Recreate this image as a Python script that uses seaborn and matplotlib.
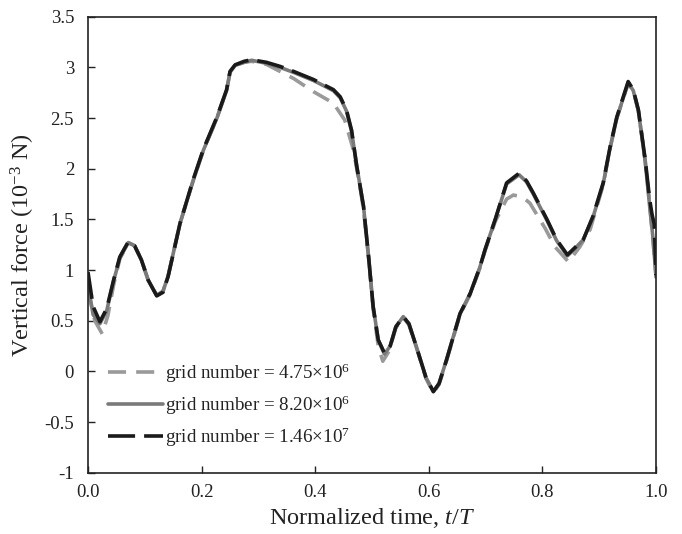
import matplotlib
matplotlib.use("Agg")
import matplotlib.pyplot as plt
import seaborn as sns
import numpy as np

# ---- data ----
t_fine = [0.000, 0.009, 0.021, 0.033, 0.045, 0.056, 0.071, 0.082, 0.094, 0.106,
          0.121, 0.132, 0.141, 0.162, 0.185, 0.203, 0.227, 0.244, 0.250, 0.259,
          0.275, 0.288, 0.314, 0.338, 0.362, 0.397, 0.432, 0.444, 0.455, 0.464,
          0.473, 0.485, 0.494, 0.502, 0.511, 0.522, 0.532, 0.542, 0.555, 0.565,
          0.578, 0.595, 0.608, 0.618, 0.631, 0.655, 0.673, 0.690, 0.699, 0.717,
          0.737, 0.759, 0.772, 0.784, 0.808, 0.825, 0.844, 0.857, 0.872, 0.889,
          0.907, 0.919, 0.931, 0.951, 0.960, 0.969, 0.981, 0.989, 0.993, 0.997, 1.000]
f_fine = [0.98, 0.64, 0.49, 0.62, 0.90, 1.13, 1.28, 1.24, 1.10, 0.90,
          0.745, 0.78, 0.935, 1.46, 1.89, 2.19, 2.51, 2.78, 2.96, 3.025,
          3.06, 3.075, 3.05, 3.01, 2.96, 2.88, 2.78, 2.71, 2.58, 2.38,
          2.03, 1.63, 1.13, 0.64, 0.31, 0.18, 0.25, 0.44, 0.54, 0.47,
          0.245, -0.06, -0.20, -0.12, 0.11, 0.57, 0.77, 1.03, 1.20, 1.50,
          1.86, 1.955, 1.88, 1.76, 1.50, 1.30, 1.15, 1.22, 1.30, 1.53,
          1.86, 2.21, 2.51, 2.86, 2.78, 2.58, 2.09, 1.69, 1.55, 1.45, 0.95]

t_mid = [0.000, 0.009, 0.021, 0.033, 0.045, 0.056, 0.071, 0.082, 0.094, 0.106,
         0.121, 0.132, 0.141, 0.162, 0.185, 0.203, 0.227, 0.244, 0.250, 0.259,
         0.275, 0.288, 0.314, 0.338, 0.362, 0.397, 0.432, 0.444, 0.455, 0.464,
         0.473, 0.485, 0.494, 0.502, 0.511, 0.522, 0.532, 0.542, 0.555, 0.565,
         0.578, 0.595, 0.608, 0.618, 0.631, 0.655, 0.673, 0.690, 0.699, 0.717,
         0.737, 0.759, 0.772, 0.784, 0.808, 0.825, 0.844, 0.857, 0.872, 0.889,
         0.907, 0.919, 0.931, 0.951, 0.960, 0.969, 0.981, 0.989, 0.995, 1.000]
f_mid = [0.85, 0.56, 0.47, 0.60, 0.89, 1.12, 1.27, 1.24, 1.10, 0.90,
         0.75, 0.79, 0.94, 1.46, 1.88, 2.18, 2.50, 2.77, 2.95, 3.02,
         3.05, 3.07, 3.04, 3.00, 2.95, 2.87, 2.77, 2.70, 2.57, 2.37,
         2.03, 1.63, 1.13, 0.64, 0.31, 0.17, 0.25, 0.44, 0.54, 0.47,
         0.245, -0.06, -0.20, -0.12, 0.11, 0.57, 0.77, 1.03, 1.20, 1.50,
         1.85, 1.94, 1.87, 1.75, 1.49, 1.29, 1.14, 1.21, 1.30, 1.52,
         1.85, 2.20, 2.50, 2.85, 2.77, 2.57, 2.07, 1.62, 1.30, 0.93]

t_coarse = [0.000, 0.012, 0.025, 0.035, 0.045, 0.056, 0.071, 0.082, 0.094, 0.106,
            0.121, 0.132, 0.141, 0.162, 0.185, 0.203, 0.227, 0.244, 0.250, 0.259,
            0.275, 0.288, 0.314, 0.338, 0.362, 0.397, 0.432, 0.452, 0.467, 0.478,
            0.485, 0.494, 0.502, 0.511, 0.519, 0.530, 0.542, 0.555, 0.565, 0.578,
            0.595, 0.608, 0.618, 0.631, 0.655, 0.673, 0.690, 0.699, 0.717, 0.737,
            0.749, 0.765, 0.778, 0.805, 0.822, 0.846, 0.866, 0.884, 0.907, 0.919,
            0.931, 0.951, 0.960, 0.969, 0.981, 0.989, 1.000]
f_coarse = [0.80, 0.50, 0.37, 0.55, 0.85, 1.11, 1.27, 1.24, 1.10, 0.90,
            0.75, 0.79, 0.94, 1.46, 1.88, 2.18, 2.50, 2.78, 2.95, 3.02,
            3.05, 3.06, 3.03, 2.96, 2.89, 2.76, 2.647, 2.48, 2.19, 1.85,
            1.60, 1.12, 0.62, 0.25, 0.10, 0.20, 0.43, 0.53, 0.46, 0.24,
            -0.07, -0.21, -0.13, 0.10, 0.56, 0.76, 1.02, 1.19, 1.48, 1.70,
            1.74, 1.72, 1.66, 1.41, 1.23, 1.08, 1.23, 1.40, 1.84, 2.20,
            2.50, 2.84, 2.77, 2.57, 2.08, 1.65, 0.95]

labels = [r"grid number = 4.75$\times$10$^{6}$",
          r"grid number = 8.20$\times$10$^{6}$",
          r"grid number = 1.46$\times$10$^{7}$"]
xticks = [0.0, 0.2, 0.4, 0.6, 0.8, 1.0]
xticklabels = ["0.0", "0.2", "0.4", "0.6", "0.8", "1.0"]
yticks = [-1, -0.5, 0, 0.5, 1, 1.5, 2, 2.5, 3, 3.5]
yticklabels = ["-1", "-0.5", "0", "0.5", "1", "1.5", "2", "2.5", "3", "3.5"]

# ---- style ----
sns.set_theme(style="white")
plt.rcParams["font.family"] = ["Liberation Serif", "DejaVu Serif"]
plt.rcParams["mathtext.fontset"] = "custom"
plt.rcParams["mathtext.rm"] = "Liberation Serif"
plt.rcParams["mathtext.it"] = "Liberation Serif:italic"

fig = plt.figure(figsize=(6.82, 5.34), dpi=100)
ax = fig.add_axes([88/682, 1 - 472.7/534, (656 - 88)/682, (472.7 - 16.7)/534])

lw = 2.6
sns.lineplot(x=t_coarse, y=f_coarse, ax=ax, color="#9a9a9a", lw=lw,
             linestyle=(0, (5.0, 2.8)), label=labels[0], sort=False)
sns.lineplot(x=t_mid, y=f_mid, ax=ax, color="#7a7a7a", lw=lw,
             linestyle="-", label=labels[1], sort=False)
sns.lineplot(x=t_fine, y=f_fine, ax=ax, color="#1a1a1a", lw=lw,
             linestyle=(0, (7.5, 2.5)), label=labels[2], sort=False)

ax.set_xlim(0, 1)
ax.set_ylim(-1, 3.5)
ax.set_xticks(xticks)
ax.set_xticklabels(xticklabels)
ax.set_yticks(yticks)
ax.set_yticklabels(yticklabels)
ax.tick_params(axis="both", direction="in", length=5, width=1, color="#222222",
               labelsize=13.5, labelcolor="#222222", pad=8,
               bottom=True, left=True, top=False, right=False)
ax.tick_params(axis="y", pad=10)
for s in ax.spines.values():
    s.set_visible(True)
    s.set_color("#222222")
    s.set_linewidth(1.2)

ax.set_xlabel(r"Normalized time, $t/T$", fontsize=17.5, color="#222222", labelpad=4)
ax.set_ylabel(r"Vertical force (10$^{-3}$ N)", fontsize=17.5, color="#222222", labelpad=5)

leg = ax.legend(loc="center left", bbox_to_anchor=(20/568, (472.7 - 405)/456),
                frameon=False, fontsize=13.7, handlelength=2.9, handletextpad=0.1,
                labelspacing=0.45, borderaxespad=0, borderpad=0,
                labelcolor="#222222")

fig.savefig("out.png", dpi=100)
